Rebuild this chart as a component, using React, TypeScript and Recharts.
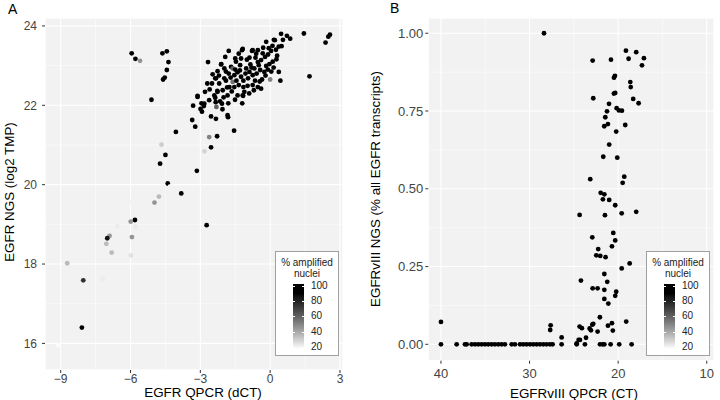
import { ScatterChart, Scatter, XAxis, YAxis, CartesianGrid } from 'recharts'

// Panel A: [EGFR QPCR dCT, EGFR NGS log2 TMP, % amplified nuclei]
const upperLeftA = [
  [-5.95, 23.31, 95], [-5.79, 23.17, 95], [-5.59, 23.12, 45], [-4.63, 23.31, 95], [-4.44, 23.36, 95],
  [-4.37, 23.09, 95], [-4.44, 22.89, 95], [-4.53, 22.7, 95], [-4.6, 22.65, 95], [-5.1, 22.14, 95],
]
const tailA = [
  [-4.05, 21.33, 95], [-4.67, 21.01, 30], [-4.5, 20.75, 95], [-4.73, 20.53, 95], [-4.4, 20.03, 95],
  [-4.31, 19.95, 20], [-3.82, 19.78, 95], [-4.78, 19.7, 35], [-3.15, 20.35, 95], [-4.97, 19.55, 45],
  [-5.99, 19.55, 20], [-5.81, 19.11, 95], [-5.99, 19.07, 45], [-2.73, 18.98, 95], [-6.57, 18.96, 22],
  [-6.54, 18.82, 20], [-5.78, 18.94, 22], [-6.9, 18.71, 45], [-7.0, 18.65, 85], [-5.94, 18.68, 45],
  [-7.04, 18.51, 35], [-6.81, 18.29, 35], [-7.07, 18.23, 20], [-5.98, 18.22, 25], [-8.72, 18.02, 35],
  [-7.2, 17.63, 22], [-8.03, 17.59, 75], [-7.86, 17.47, 20], [-8.09, 16.4, 100], [-9.1, 15.95, 18],
]
const midA = [
  [-3.35, 21.63, 95], [-3.22, 21.46, 95], [-3.26, 21.35, 20], [-3.31, 21.99, 95], [-3.12, 22.21, 95],
  [-2.8, 22.34, 95], [-2.99, 21.91, 95], [-2.93, 21.84, 95], [-2.85, 21.98, 95], [-2.62, 21.2, 50],
  [-2.82, 20.84, 28], [-2.54, 20.94, 95], [-2.28, 21.22, 95], [-2.54, 21.72, 95], [-2.33, 21.66, 95],
  [-2.31, 21.96, 60], [-2.34, 22.08, 95], [-2.07, 22.04, 95], [-1.8, 22.05, 95], [-1.83, 21.75, 95],
  [-1.81, 21.7, 95], [-1.55, 21.36, 95], [-1.51, 22.14, 95], [-2.36, 22.19, 95], [-2.4, 22.25, 95],
  [-2.27, 22.36, 95], [-2.95, 22.05, 95], [-2.05, 21.9, 95], [-1.2, 22.05, 95],
]
const clusterA = [
  [-2.67, 23.09, 95], [-2.47, 22.78, 95], [-2.36, 22.68, 95], [-2.1, 23.04, 95], [-1.93, 23.22, 95],
  [-1.78, 23.37, 95], [-1.21, 23.39, 95], [-1.16, 22.24, 95], [-0.78, 23.37, 95], [-0.17, 23.6, 95],
  [0.0, 22.65, 50], [0.44, 22.62, 95], [0.37, 22.84, 95], [0.27, 23.16, 95], [0.47, 23.8, 95],
  [0.72, 23.75, 95], [0.86, 23.68, 95], [1.45, 23.81, 95], [1.69, 22.73, 95], [2.38, 23.58, 95],
  [2.5, 23.73, 95], [2.57, 23.78, 95], [0.49, 23.49, 95], [0.2, 23.64, 95], [-0.06, 23.44, 95],
  [0.04, 23.37, 95], [-0.09, 23.28, 95], [-0.22, 23.22, 95], [-0.32, 23.31, 95], [-0.53, 23.39, 95],
  [-0.75, 23.39, 95], [-1.18, 23.42, 95], [-1.5, 23.18, 95], [-1.25, 23.18, 95], [-0.89, 23.2, 95],
  [-0.63, 23.2, 95], [-0.39, 23.14, 95], [-0.03, 23.04, 95], [0.11, 23.1, 95], [-0.17, 22.99, 95],
  [-0.49, 23.01, 95], [-0.68, 22.93, 95], [-0.85, 23.03, 95], [-1.03, 22.93, 95], [-1.29, 23.01, 95],
  [-1.47, 23.1, 95], [-1.68, 22.97, 95], [-1.97, 22.93, 95], [-2.11, 23.03, 95], [-2.26, 22.86, 95],
  [-2.33, 22.68, 95], [-2.5, 22.55, 95], [-2.19, 22.55, 95], [-1.97, 22.68, 95], [-1.78, 22.8, 95],
  [-1.61, 22.93, 60], [-1.54, 22.76, 95], [-1.4, 22.83, 95], [-1.25, 22.72, 95], [-1.06, 22.8, 95],
  [-0.89, 22.84, 95], [-0.75, 22.76, 95], [-0.58, 22.8, 95], [-0.43, 22.89, 95], [-0.25, 22.84, 95],
  [-1.61, 22.59, 55], [-1.75, 22.46, 95], [-1.54, 22.46, 95], [-1.35, 22.51, 95], [-1.15, 22.46, 95],
  [-0.97, 22.49, 95], [-0.75, 22.51, 95], [-0.53, 22.46, 95], [-0.39, 22.42, 95], [-1.4, 22.25, 95],
  [-1.18, 22.25, 95], [-1.11, 22.34, 95], [-1.83, 22.25, 95], [-2.04, 22.38, 95], [-2.26, 22.34, 95],
  [-2.62, 22.13, 95], [-2.83, 22.04, 95], [-3.12, 22.24, 95], [-0.53, 23.09, 95], [0.37, 23.48, 95],
  [0.16, 23.65, 95], [-1.9, 22.62, 95], [-1.7, 22.7, 95], [-1.45, 22.62, 95], [-1.3, 22.88, 95],
  [-1.15, 22.62, 95], [-0.95, 22.68, 95], [-0.8, 22.95, 95], [-0.65, 22.62, 95], [-0.35, 22.65, 95],
  [-0.2, 22.75, 95], [-0.1, 22.9, 95], [0.05, 22.85, 95], [0.15, 22.95, 95], [-2.0, 22.2, 95],
  [-1.65, 22.35, 95], [-0.9, 22.3, 95], [-0.6, 23.3, 95], [-1.0, 23.15, 95], [-1.35, 23.3, 95],
  [-1.9, 22.85, 95], [-2.2, 22.75, 95], [-0.3, 23.45, 95], [0.3, 23.25, 95], [0.1, 23.5, 95],
  [-2.6, 22.4, 95], [-2.15, 22.1, 95], [-1.85, 22.45, 95], [0.55, 23.65, 95], [0.25, 23.4, 95],
  [-0.45, 22.6, 95], [-0.7, 22.38, 95], [-1.5, 22.9, 95], [-2.7, 22.55, 95],
]

// Panel B: [EGFRvIII QPCR CT, EGFRvIII NGS fraction]
const highB = [
  [28.37, 1.0], [22.88, 0.912], [20.81, 0.915], [19.12, 0.944], [17.96, 0.939], [18.82, 0.918],
  [17.09, 0.92], [17.31, 0.897], [20.36, 0.863], [20.47, 0.857], [18.63, 0.843], [18.58, 0.827],
  [22.81, 0.791], [20.33, 0.808], [20.48, 0.806], [18.3, 0.789], [17.69, 0.775], [21.03, 0.773],
  [20.17, 0.759], [19.91, 0.752], [19.57, 0.751], [21.26, 0.749], [21.45, 0.73], [21.15, 0.708],
  [21.57, 0.701], [19.2, 0.705], [20.22, 0.684], [21.01, 0.642], [21.68, 0.603], [20.1, 0.6],
  [19.31, 0.539], [19.49, 0.519], [23.15, 0.531], [21.97, 0.487], [21.56, 0.482], [21.72, 0.466],
  [21.01, 0.464], [20.33, 0.447], [24.35, 0.416], [21.49, 0.415], [19.6, 0.421], [17.96, 0.426],
]
const midB = [
  [22.92, 0.344], [20.55, 0.358], [20.33, 0.334], [20.7, 0.315], [22.25, 0.306], [22.47, 0.286],
  [22.02, 0.284], [21.42, 0.28], [18.7, 0.26], [19.6, 0.244], [21.56, 0.226], [24.2, 0.205],
  [21.23, 0.201], [22.88, 0.18], [22.32, 0.18], [21.56, 0.175], [20.22, 0.169], [20.33, 0.156],
  [21.56, 0.146], [21.11, 0.131],
]
const lowB = [
  [22.06, 0.087], [19.09, 0.073], [22.81, 0.066], [22.92, 0.063], [21.15, 0.06], [20.7, 0.068],
  [24.35, 0.057], [24.09, 0.052], [23.22, 0.051], [23.07, 0.045], [22.32, 0.041], [20.6, 0.044],
  [27.62, 0.061], [27.67, 0.046], [40.0, 0.072], [26.38, 0.022], [23.63, 0.021], [24.46, 0.014],
  [24.31, 0.014], [24.68, 0.003],
]
const zeroRowB = [
  40.0, 38.23, 37.29, 37.1, 36.54, 36.16, 35.79, 35.41, 35.03, 34.66, 34.28, 33.91, 33.53, 33.15,
  32.78, 32.02, 31.65, 31.08, 30.71, 30.33, 29.95, 29.58, 29.2, 28.83, 28.45, 28.08, 27.7, 27.4,
  26.38, 24.68, 23.75, 22.05, 21.75, 21.56, 20.85, 19.88, 18.48,
]

const xTicksA = [-9, -6, -3, 0, 3]
const xMinorA = [-7.5, -4.5, -1.5, 1.5]
const yTicksA = [16, 18, 20, 22, 24]
const yMinorA = [17, 19, 21, 23]
const xTicksB = [40, 30, 20, 10]
const xMinorB = [35, 25, 15]
const yTicksB = [0, 0.25, 0.5, 0.75, 1]
const yMinorB = [0.125, 0.375, 0.625, 0.875]
const legendTicks = [100, 80, 60, 40, 20]

const pointsA = [...upperLeftA, ...tailA, ...midA, ...clusterA].map(([x, y, amp]) => ({ x, y, amp }))
const pointsB = [
  ...highB.map(([x, y]) => ({ x, y, amp: 100 })),
  ...midB.map(([x, y]) => ({ x, y, amp: 100 })),
  ...lowB.map(([x, y]) => ({ x, y, amp: 100 })),
  ...zeroRowB.map((x) => ({ x, y: 0, amp: 100 })),
]

const FONT = '"Liberation Sans", Arial, Helvetica, sans-serif'
const BG = '#f2f2f2'

// white -> black in Lab lightness, like ggplot's gradient
function gray(v: number) {
  const t = Math.min(1, Math.max(0, (v - 17) / (90 - 17)))
  const L = 100 * (1 - t)
  const fy = (L + 16) / 116
  const Y = L > 8 ? fy * fy * fy : L / 903.3
  const s = Y <= 0.0031308 ? 12.92 * Y : 1.055 * Math.pow(Y, 1 / 2.4) - 0.055
  const c = Math.round(255 * Math.min(1, Math.max(0, s)))
  return `rgb(${c},${c},${c})`
}

const dot = (p: any) => <circle cx={p.cx} cy={p.cy} r={2.4} fill={gray(p.payload.amp)} />

const minus = (v: number) => String(v).replace('-', '\u2212')

function ColourLegend({ left, top }: { left: number; top: number }) {
  const hi = 102.6
  const lo = 17
  const barH = 65
  const stops = [102.6, 95, 90, 85, 80, 75, 70, 60, 50, 40, 30, 20, 17]
    .map((v) => `${gray(v)} ${(((hi - v) / (hi - lo)) * 100).toFixed(1)}%`)
    .join(', ')
  const yOf = (v: number) => ((hi - v) / (hi - lo)) * barH
  return (
    <div
      style={{
        position: 'absolute', left, top, width: 62, height: 103, background: '#fff',
        border: '1px solid #a0a0a0', fontFamily: FONT, fontSize: 10, color: '#222',
      }}
    >
      <div style={{ position: 'absolute', top: 5, width: '100%', textAlign: 'center', lineHeight: '11px' }}>
        % amplified
        <br />
        nuclei
      </div>
      <div
        style={{
          position: 'absolute', left: 17, top: 32, width: 11, height: barH,
          background: `linear-gradient(to bottom, ${stops})`,
        }}
      >
        {legendTicks.map((v) => (
          <div key={v}>
            <div style={{ position: 'absolute', left: 0, top: yOf(v), width: 2, height: 1, background: '#fff' }} />
            <div style={{ position: 'absolute', right: 0, top: yOf(v), width: 2, height: 1, background: '#fff' }} />
          </div>
        ))}
      </div>
      {legendTicks.map((v) => (
        <div key={v} style={{ position: 'absolute', left: 35, top: 32 + yOf(v) - 6, lineHeight: '12px' }}>
          {v}
        </div>
      ))}
    </div>
  )
}

function Title({ x, y, text, rotate }: { x: number; y: number; text: string; rotate?: boolean }) {
  return (
    <div
      style={{
        position: 'absolute', left: x, top: y, fontFamily: FONT, fontSize: 13.4, lineHeight: '11px',
        whiteSpace: 'nowrap', color: '#000',
        transform: `translate(-50%, -50%)${rotate ? ' rotate(-90deg)' : ''}`,
      }}
    >
      {text}
    </div>
  )
}

export default function App() {
  return (
    <div style={{ position: 'absolute', left: 0, top: 0, width: 720, height: 400, background: '#fff', overflow: 'hidden' }}>
      <div style={{ position: 'absolute', left: 0, top: 0 }}>
        <ScatterChart width={360} height={400} margin={{ top: 18, right: 17, bottom: 0, left: 0 }}>
          <XAxis xAxisId="minor" type="number" dataKey="x" domain={[-9.675, 3.13]} ticks={xMinorA} allowDataOverflow hide />
          <YAxis yAxisId="minor" type="number" dataKey="y" domain={[15.33, 24.2]} ticks={yMinorA} allowDataOverflow hide />
          <CartesianGrid xAxisId="minor" yAxisId="minor" fill={BG} fillOpacity={1} stroke="#fff" strokeWidth={0.5} />
          <CartesianGrid stroke="#fff" strokeWidth={1.1} />
          <XAxis
            type="number" dataKey="x" domain={[-9.675, 3.13]} ticks={xTicksA} interval={0} allowDataOverflow
            height={30} tickSize={3} tickMargin={1} axisLine={false} tickLine={{ stroke: '#333' }}
            tick={{ fill: '#444', fontSize: 12, fontFamily: FONT }} tickFormatter={minus}
          />
          <YAxis
            type="number" dataKey="y" domain={[15.33, 24.2]} ticks={yTicksA} interval={0} allowDataOverflow
            width={45} tickSize={3} tickMargin={5} axisLine={false} tickLine={{ stroke: '#333' }}
            tick={{ fill: '#444', fontSize: 12, fontFamily: FONT }}
          />
          <Scatter data={pointsA} isAnimationActive={false} shape={dot} />
        </ScatterChart>
      </div>
      <div style={{ position: 'absolute', left: 360, top: 0 }}>
        <ScatterChart width={360} height={400} margin={{ top: 18, right: 6, bottom: 0, left: 0 }}>
          <XAxis xAxisId="minor" type="number" dataKey="x" domain={[9.18, 41.43]} ticks={xMinorB} reversed allowDataOverflow hide />
          <YAxis yAxisId="minor" type="number" dataKey="y" domain={[-0.0527, 1.049]} ticks={yMinorB} allowDataOverflow hide />
          <CartesianGrid xAxisId="minor" yAxisId="minor" fill={BG} fillOpacity={1} stroke="#fff" strokeWidth={0.5} />
          <CartesianGrid stroke="#fff" strokeWidth={1.1} />
          <XAxis
            type="number" dataKey="x" domain={[9.18, 41.43]} ticks={xTicksB} interval={0} reversed allowDataOverflow
            height={39.3} tickSize={3} tickMargin={5} axisLine={false} tickLine={{ stroke: '#333' }}
            tick={{ fill: '#444', fontSize: 13, fontFamily: FONT }}
          />
          <YAxis
            type="number" dataKey="y" domain={[-0.0527, 1.049]} ticks={yTicksB} interval={0} allowDataOverflow
            width={68.3} tickSize={3} tickMargin={2} axisLine={false} tickLine={{ stroke: '#333' }}
            tick={{ fill: '#444', fontSize: 13, fontFamily: FONT }} tickFormatter={(v: number) => v.toFixed(2)}
          />
          <Scatter data={pointsB} isAnimationActive={false} shape={dot} />
        </ScatterChart>
      </div>
      <ColourLegend left={275} top={251} />
      <ColourLegend left={646} top={251} />
      <Title x={203} y={392} text="EGFR QPCR (dCT)" />
      <Title x={574} y={392.7} text="EGFRvIII QPCR (CT)" />
      <Title x={9} y={192} text="EGFR NGS (log2 TMP)" rotate />
      <Title x={375} y={189} text="EGFRvIII NGS (% all EGFR transcripts)" rotate />
      <div style={{ position: 'absolute', left: 8, top: 1, fontFamily: FONT, fontSize: 14, lineHeight: '16px' }}>A</div>
      <div style={{ position: 'absolute', left: 390, top: 0, fontFamily: FONT, fontSize: 14, lineHeight: '16px' }}>B</div>
    </div>
  )
}
